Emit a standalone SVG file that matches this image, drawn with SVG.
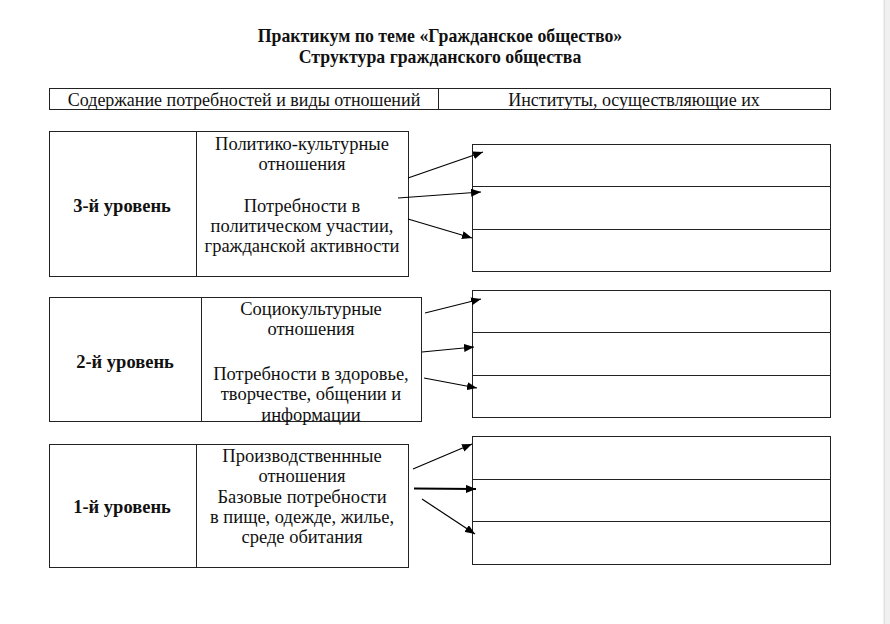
<svg xmlns="http://www.w3.org/2000/svg" width="890" height="624" viewBox="0 0 890 624">
<defs>
<marker id="ah" viewBox="0 0 10 8" refX="10" refY="4" markerWidth="10" markerHeight="8" markerUnits="userSpaceOnUse" orient="auto">
<path d="M0,0 L10,4 L0,8 Z" fill="#000"/>
</marker>
<style>
.t{font-size:18.5px;fill:#111;text-anchor:middle}
.b{font-weight:bold}
.h{font-size:17.8px}
.hd{font-size:18px}
.box{fill:none;stroke:#222;stroke-width:1}
.ln{stroke:#222;stroke-width:1}
.ar{stroke:#000;stroke-width:1.2;fill:none;marker-end:url(#ah)}
</style>
</defs>
<rect width="890" height="624" fill="#fff"/>
<rect x="883" y="0" width="7" height="624" fill="#f0f0f1"/>
<line x1="884.5" y1="0" x2="884.5" y2="624" stroke="#e2e2e4" stroke-width="1"/>

<g font-family="Liberation Serif, DejaVu Serif, serif">
<g id="title">
<text class="t b h" x="440" y="42">Практикум по теме «Гражданское общество»</text>
<text class="t b h" x="440" y="63">Структура гражданского общества</text>
</g>

<g id="header">
<rect class="box" x="49.5" y="88.5" width="781" height="21"/>
<line class="ln" x1="438.5" y1="88.5" x2="438.5" y2="109.5"/>
<text class="t hd" x="244" y="105.5">Содержание потребностей и виды отношений</text>
<text class="t hd" x="634" y="105.5">Институты, осуществляющие их</text>
</g>

<g id="level3">
<rect class="box" x="49.5" y="131.5" width="359" height="145"/>
<line class="ln" x1="196.5" y1="131.5" x2="196.5" y2="276.5"/>
<text class="t b" x="122" y="212">3-й уровень</text>
<text class="t" x="302" y="150">Политико-культурные</text>
<text class="t" x="302" y="170">отношения</text>
<text class="t" x="302" y="212">Потребности в</text>
<text class="t" x="302" y="232">политическом участии,</text>
<text class="t" x="302" y="252">гражданской активности</text>
</g>
<g id="inst3">
<rect class="box" x="472.5" y="144.5" width="358" height="127"/>
<line class="ln" x1="472.5" y1="186.5" x2="830.5" y2="186.5"/>
<line class="ln" x1="472.5" y1="229.5" x2="830.5" y2="229.5"/>
</g>

<g id="level2">
<rect class="box" x="49.5" y="297.5" width="372" height="124"/>
<line class="ln" x1="201.5" y1="297.5" x2="201.5" y2="421.5"/>
<text class="t b" x="125" y="368">2-й уровень</text>
<text class="t" x="311" y="315">Социокультурные</text>
<text class="t" x="311" y="335">отношения</text>
<text class="t" x="311" y="380">Потребности в здоровье,</text>
<text class="t" x="311" y="400">творчестве, общении и</text>
<text class="t" x="311" y="420.5">информации</text>
</g>
<g id="inst2">
<rect class="box" x="472.5" y="290.5" width="358" height="127"/>
<line class="ln" x1="472.5" y1="332.5" x2="830.5" y2="332.5"/>
<line class="ln" x1="472.5" y1="375.5" x2="830.5" y2="375.5"/>
</g>

<g id="level1">
<rect class="box" x="49.5" y="444.5" width="359" height="123"/>
<line class="ln" x1="196.5" y1="444.5" x2="196.5" y2="567.5"/>
<text class="t b" x="122" y="513">1-й уровень</text>
<text class="t" x="302" y="462">Производственнные</text>
<text class="t" x="302" y="482">отношения</text>
<text class="t" x="302" y="503">Базовые потребности</text>
<text class="t" x="302" y="523">в пище, одежде, жилье,</text>
<text class="t" x="302" y="543">среде обитания</text>
</g>
<g id="inst1">
<rect class="box" x="472.5" y="436.5" width="358" height="128"/>
<line class="ln" x1="472.5" y1="479.5" x2="830.5" y2="479.5"/>
<line class="ln" x1="472.5" y1="521.5" x2="830.5" y2="521.5"/>
</g>
</g>

<g id="connectors">
<line class="ar" x1="408" y1="178" x2="483" y2="152"/>
<line class="ar" x1="398" y1="198" x2="481" y2="192"/>
<line class="ar" x1="408" y1="219" x2="472" y2="238"/>
<line class="ar" x1="425" y1="313" x2="481" y2="299"/>
<line class="ar" x1="422" y1="352" x2="474" y2="347"/>
<line class="ar" x1="424" y1="378" x2="477" y2="388"/>
<line class="ar" x1="413" y1="469" x2="472" y2="444"/>
<line class="ar" x1="414" y1="488.5" x2="476" y2="489" style="stroke-width:2"/>
<line class="ar" x1="422" y1="499" x2="475" y2="534"/>
</g>
</svg>
